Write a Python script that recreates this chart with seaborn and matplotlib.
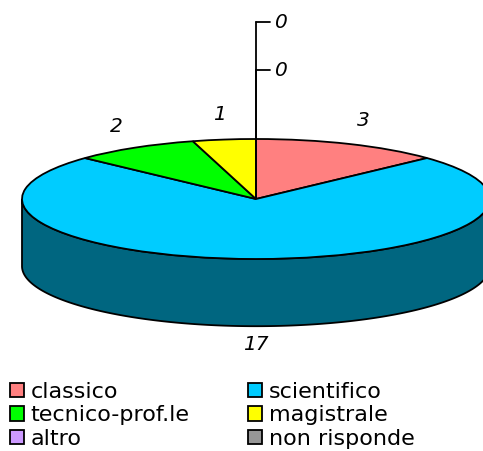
import numpy as np
import matplotlib
matplotlib.use("Agg")
import matplotlib.pyplot as plt
import seaborn as sns

# data
categories = ["classico", "scientifico", "tecnico-prof.le", "magistrale", "altro", "non risponde"]
counts = [3, 17, 2, 1, 0, 0]
top_colors = ["#FF8080", "#00CCFF", "#00FF00", "#FFFF00", "#CC99FF", "#969696"]
side_colors = ["#804040", "#006680", "#008000", "#808000", "#664C80", "#4B4B4B"]
legend_order = [0, 2, 4, 1, 3, 5]

DEPTH = 1.12  # thickness of the disc, in units of the vertical radius

sns.set_theme(style="white")
plt.rcParams["font.family"] = ["DejaVu Sans"]
plt.rcParams["text.color"] = "black"

fig = plt.figure(figsize=(4.83, 4.51), dpi=100)
ax = fig.add_axes([0, 0, 1, 1])

wedges, _ = ax.pie(counts, colors=top_colors, startangle=90, counterclock=False,
                   wedgeprops=dict(edgecolor="black", linewidth=1.3))
for w in wedges:
    w.set_zorder(3)

total = sum(counts)
bounds = 90 - 360 * np.concatenate([[0], np.cumsum(counts)]) / total

# side of the disc: only the front half (sin < 0) is visible
for i in range(len(counts)):
    lo, hi = bounds[i + 1], bounds[i]
    lo, hi = max(lo, -180), min(hi, 0)
    if hi <= lo:
        continue
    th = np.radians(np.linspace(lo, hi, 300))
    xs = np.cos(th)
    ys = np.sin(th)
    ax.fill(np.concatenate([xs, xs[::-1]]), np.concatenate([ys, ys[::-1] - DEPTH]),
            facecolor=side_colors[i], edgecolor="black", linewidth=1.3, zorder=2)

# value labels
label_kw = dict(fontsize=14.5, style="italic", va="center", color="black")
zero_idx = 0
for i, c in enumerate(counts):
    if c > 0:
        mid = np.radians((bounds[i] + bounds[i + 1]) / 2)
        lx = 1.15 * np.cos(mid)
        ly = 1.42 * np.sin(mid)
        if ly < 0:
            ly = 1.3 * np.sin(mid) - DEPTH
        ax.text(lx, ly, str(c), ha="center", **label_kw)
    else:
        # zero slices: leader line going up from the top of the pie
        ty = 2.15 + 0.8 * zero_idx
        ax.plot([0, 0], [1, ty], color="black", lw=1.3, zorder=4)
        ax.plot([0, 0.06], [ty, ty], color="black", lw=1.3, zorder=4)
        ax.text(0.08, ty, str(c), ha="left", **label_kw)
        zero_idx += 1

ax.set_aspect("auto")
ax.set_xlim(-256 / 234, 227 / 234)
ax.set_ylim((199 - 451) / 60, 199 / 60)
ax.axis("off")

leg = ax.legend([wedges[i] for i in legend_order], [categories[i] for i in legend_order],
                ncol=2, loc="upper left", bbox_to_anchor=(10 / 483, 1 - 382 / 451),
                bbox_transform=fig.transFigure, frameon=False, fontsize=16,
                borderpad=0, borderaxespad=0, labelspacing=0.15,
                handlelength=0.62, handleheight=0.62, handletextpad=0.3,
                columnspacing=2.65, labelcolor="black")
for h in leg.legend_handles:
    h.set_linewidth(1.3)

fig.savefig("out.png", dpi=100)
